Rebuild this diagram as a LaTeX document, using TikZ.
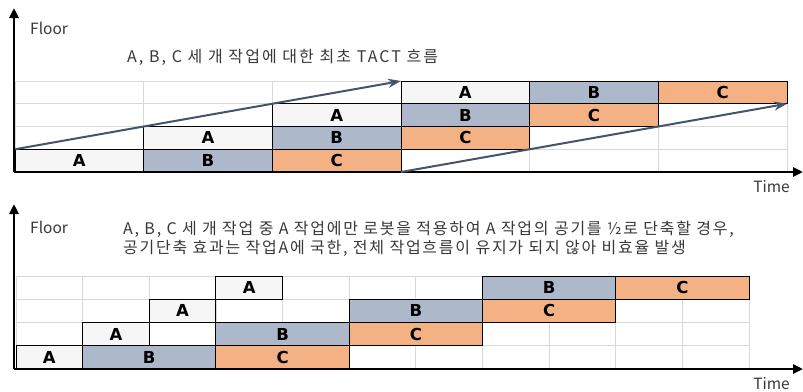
\documentclass[tikz,border=0pt]{standalone}
\usepackage{fontspec}
\setmainfont{Noto Sans CJK KR}
\newfontfamily\notefont{Noto Sans CJK KR}[LetterSpace=13]
\newfontfamily\notefontb{Noto Sans CJK KR}[LetterSpace=11]
\newfontfamily\labfont{DejaVu Sans}
\usetikzlibrary{arrows.meta}
\definecolor{cA}{HTML}{F6F6F6}
\definecolor{cB}{HTML}{ADB9CA}
\definecolor{cC}{HTML}{F4B183}
\definecolor{flow}{HTML}{44546A}
\definecolor{txt}{HTML}{383838}
\definecolor{gridc}{HTML}{D9D9D9}
\tikzset{
  blk/.style={draw=black, line width=1pt, inner sep=0pt, outer sep=0pt, anchor=south west,
    font=\labfont\bfseries\fontsize{16.5}{16.5}\selectfont, text=black},
  ta/.style={blk, fill=cA, minimum width=128.67pt, minimum height=22.75pt},
  tb/.style={ta, fill=cB}, tc/.style={ta, fill=cC},
  ba/.style={blk, fill=cA, minimum width=66.64pt, minimum height=23.25pt},
  bb/.style={blk, fill=cB, minimum width=133.28pt, minimum height=23.25pt},
  bc/.style={bb, fill=cC},
  gridl/.style={draw=gridc, line width=0.8pt},
  axis/.style={draw=black, line width=2.6pt, -{Triangle[length=10pt,width=9pt]}},
  flowarrow/.style={draw=flow, line width=2pt, -{Stealth[length=13pt,width=9pt]}},
  axlab/.style={font=\fontsize{15.5}{15.5}\selectfont, text=txt, inner sep=0pt},
  note/.style={font=\notefont\fontsize{16}{19}\selectfont, text=txt, align=left, anchor=west, inner sep=0pt},
  noteb/.style={note, font=\notefontb\fontsize{16}{19}\selectfont}
}
\begin{document}
\begin{tikzpicture}[x=1pt,y=-1pt]
\useasboundingbox (0,0) rectangle (803,391);
% ================= TOP PANEL =================
\foreach \i in {0,...,6} \draw[gridl] ({15+128.67*\i},81) -- ({15+128.67*\i},172);
\foreach \y in {81,103.75,126.5,149.25} \draw[gridl] (15,\y) -- (787,\y);
\foreach \r/\nm in {0/0,1/1,2/2,3/3}{
  \node[ta] (ta\nm) at ({15+128.67*\r},{172-22.75*\r}) {A};
  \node[tb] (tb\nm) at ({15+128.67*(\r+1)},{172-22.75*\r}) {B};
  \node[tc] (tc\nm) at ({15+128.67*(\r+2)},{172-22.75*\r}) {C};
}
\coordinate (tO) at (14,172);
\coordinate (tY) at (14,8);
\coordinate (tX) at (803,172);
\draw[axis] (tO) -- (tY);
\draw[axis] (tO) -- (tX);
\node[axlab, anchor=west] (tfloor) at (30,28) {Floor};
\node[axlab, anchor=east] (ttime) at (790,187) {Time};
\node[note] (ttitle) at (127,57) {A, B, C 세 개 작업에 대한 최초 TACT 흐름};
\draw[flowarrow] (ta0.north west) -- (ta3.north west);
\draw[flowarrow] (tc0.south east) -- (tc3.south east);
% ================= BOTTOM PANEL =================
\foreach \i in {0,...,11} \draw[gridl] ({16+66.64*\i},276) -- ({16+66.64*\i},369);
\foreach \y in {276,299.25,322.5,345.75} \draw[gridl] (16,\y) -- (749,\y);
\foreach \r in {0,1,2,3}{
  \node[ba] (ba\r) at ({16+66.64*\r},{369-23.25*\r}) {A};
}
\node[bb] (bb0) at ({16+66.64*1},369) {B};
\node[bc] (bc0) at ({16+66.64*3},369) {C};
\node[bb] (bb1) at ({16+66.64*3},345.75) {B};
\node[bc] (bc1) at ({16+66.64*5},345.75) {C};
\node[bb] (bb2) at ({16+66.64*5},322.5) {B};
\node[bc] (bc2) at ({16+66.64*7},322.5) {C};
\node[bb] (bb3) at ({16+66.64*7},299.25) {B};
\node[bc] (bc3) at ({16+66.64*9},299.25) {C};
\coordinate (bO) at (14,369);
\coordinate (bY) at (14,204);
\coordinate (bX) at (803,369);
\draw[axis] (bO) -- (bY);
\draw[axis] (bO) -- (bX);
\node[axlab, anchor=west] (bfloor) at (30,227) {Floor};
\node[axlab, anchor=east] (btime) at (790,384) {Time};
\node[noteb] (btitle) at (123,239) {A, B, C 세 개 작업 중 A 작업에만 로봇을 적용하여 A 작업의 공기를 ½로 단축할 경우,\\공기단축 효과는 작업A에 국한, 전체 작업흐름이 유지가 되지 않아 비효율 발생};
\end{tikzpicture}
\end{document}
